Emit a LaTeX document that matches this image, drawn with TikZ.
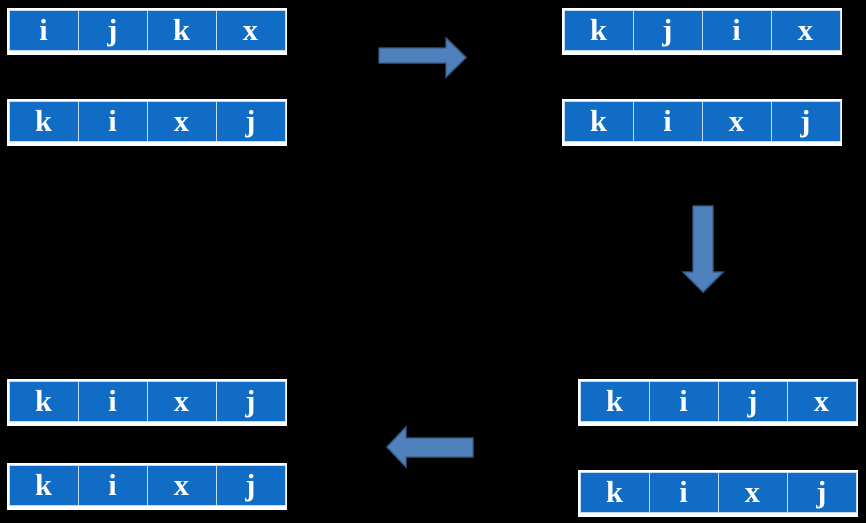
\documentclass[tikz,border=0pt]{standalone}
\usepackage{fontspec}
\setmainfont{Liberation Serif}
\usetikzlibrary{calc}
\definecolor{cellblue}{RGB}{16,108,196}
\definecolor{arrfill}{RGB}{79,129,189}
\definecolor{arrline}{RGB}{56,93,138}
% one row of four slots: name, left, top, letters
\newcommand{\slots}[4]{%
  \node[frame] (#1) at (#2,#3) {};
  \foreach \c [count=\n] in {#4}
    \node[cell] (#1-\n) at ($(#1.north west)+({2+(\n-1)*69},2)$) {\c};
}

\begin{document}
\begin{tikzpicture}[
    x=0.03cm, y=-0.03cm,
    frame/.style={fill=white, anchor=north west, inner sep=0pt, outer sep=0pt,
                  minimum width=8.4cm, minimum height=1.41cm},
    cell/.style ={fill=cellblue, draw=white!75!cellblue, line width=0.5pt,
                  anchor=north west, inner sep=0pt, outer sep=0pt,
                  minimum width=2.07cm, minimum height=1.2cm,
                  text height=0.75cm, text depth=0.15cm,
                  text=white, font=\fontsize{26}{30}\selectfont\bfseries},
    blockarrow/.style={fill=arrfill, draw=arrline, line width=1.2pt, line join=miter},
]
\fill[black] (0,0) rectangle (866,523);

% --- left column ---
\slots{la}{7}{8}{i,j,k,x}
\slots{lb}{7}{99}{k,i,x,j}
% --- right column ---
\slots{ra}{562}{8}{k,j,i,x}
\slots{rb}{562}{99}{k,i,x,j}
% --- bottom right ---
\slots{sa}{578}{379}{k,i,j,x}
\slots{sb}{578}{470}{k,i,x,j}
% --- bottom left ---
\slots{ta}{7}{379}{k,i,x,j}
\slots{tb}{7}{463}{k,i,x,j}

% block arrows
\draw[blockarrow] (379,48) -- (446,48) -- (446,38) -- (466,57.5) -- (446,77)
                  -- (446,63) -- (379,63) -- cycle;
\draw[blockarrow] (693,206) -- (713,206) -- (713,272) -- (723,272) -- (703,292)
                  -- (683,272) -- (693,272) -- cycle;
\draw[blockarrow] (473,438) -- (406,438) -- (406,427) -- (387,447) -- (406,467)
                  -- (406,457) -- (473,457) -- cycle;
\end{tikzpicture}
\end{document}
